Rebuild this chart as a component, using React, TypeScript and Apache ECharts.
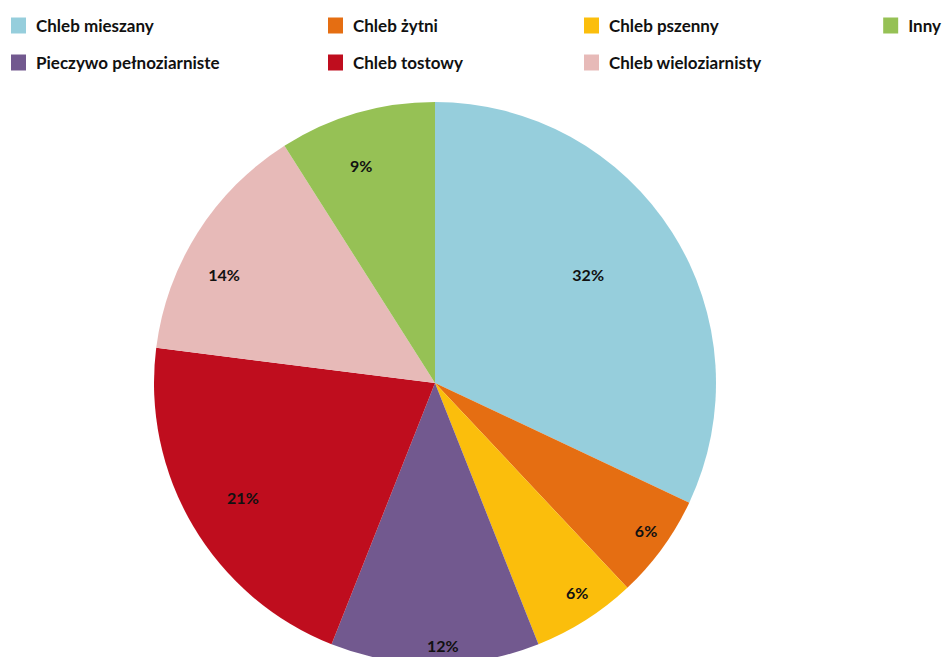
import React, { useEffect, useRef } from "react";
import * as echarts from "echarts";

// Data (clockwise from 12 o'clock)
const categories = [
  "Chleb mieszany",
  "Chleb żytni",
  "Chleb pszenny",
  "Pieczywo pełnoziarniste",
  "Chleb tostowy",
  "Chleb wieloziarnisty",
  "Inny",
];
const shares = [32, 6, 6, 12, 21, 14, 9];
const colors = ["#96CEDC", "#E56E12", "#FBBE0C", "#72598F", "#BF0D1E", "#E7BAB8", "#96C155"];

// Legend order as shown (rows of a 4-column grid)
const legendOrder = [
  "Chleb mieszany",
  "Chleb żytni",
  "Chleb pszenny",
  "Inny",
  "Pieczywo pełnoziarniste",
  "Chleb tostowy",
  "Chleb wieloziarnisty",
];

// layout constants
const CX = 435;
const CY = 383;
const R = 281;
const labelRadiusFrac = [0.667, 0.917, 0.902, 0.933, 0.795, 0.845, 0.819];
const labelAngleShiftDeg = [-2.8, -1.0, -1.7, -1.7, -0.1, -5.1, -2.5];
const legendCols = [11, 328, 584, 887];
const legendRows = [17, 54];

export default function App() {
  const ref = useRef<HTMLDivElement>(null);

  useEffect(() => {
    document.body.style.margin = "0";
    if (!ref.current) return;
    const chart = echarts.init(ref.current, undefined, { renderer: "svg" });

    const total = shares.reduce((a, b) => a + b, 0);
    const midAngles: number[] = [];
    let acc = 0;
    shares.forEach((v) => {
      midAngles.push(((acc + v / 2) / total) * Math.PI * 2);
      acc += v;
    });

    const legends = legendOrder.map((name, i) => {
      const col = i % 4;
      const pos: any = col === 3 ? { right: 1 } : { left: legendCols[col] };
      return {
        data: [name],
        ...pos,
        top: legendRows[Math.floor(i / 4)],
        icon: "rect",
        itemWidth: 15,
        itemHeight: 16,
        itemGap: 0,
        padding: 0,
        selectedMode: false,
        textStyle: {
          fontFamily: "Lato",
          fontWeight: "bold",
          fontSize: 17,
          color: "#111111",
          padding: [2, 0, 0, 5],
        },
      };
    });

    chart.setOption({
      animation: false,
      color: colors,
      legend: legends,
      series: [
        {
          type: "pie",
          center: [CX, CY],
          radius: [0, R],
          startAngle: 90,
          clockwise: true,
          silent: true,
          itemStyle: { borderWidth: 0 },
          emphasis: { disabled: true },
          label: {
            show: true,
            position: "inside",
            formatter: "{c}%",
            fontFamily: "Lato",
            fontWeight: "bold",
            fontSize: 16,
            color: "#111111",
          },
          labelLine: { show: false },
          labelLayout: (params: any) => {
            const i = params.dataIndex;
            const a = midAngles[i] + (labelAngleShiftDeg[i] * Math.PI) / 180;
            const r = labelRadiusFrac[i] * R;
            return {
              x: CX + r * Math.sin(a),
              y: CY - r * Math.cos(a),
              align: "center",
              verticalAlign: "middle",
            };
          },
          data: categories.map((name, i) => ({
            name,
            value: shares[i],
            itemStyle: { color: colors[i] },
          })),
        },
      ],
    });

    return () => chart.dispose();
  }, []);

  return <div ref={ref} style={{ width: 942, height: 657 }} />;
}
